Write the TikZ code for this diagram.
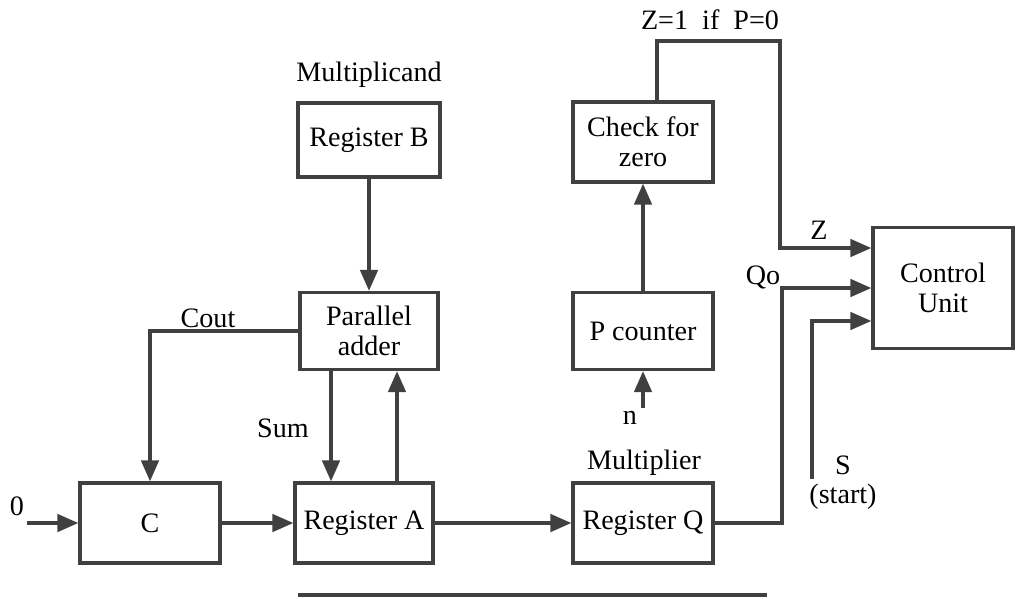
\documentclass[tikz,border=0pt]{standalone}
\usepackage{fontspec}
\setmainfont{Liberation Serif}
\usetikzlibrary{arrows.meta}

\begin{document}
\begin{tikzpicture}[x=0.02cm,y=-0.02cm,
        font=\fontsize{16}{17}\selectfont,
        unit/.style={draw=black!75,line width=1.9pt,inner sep=0pt,align=center,
                     minimum width=2.8cm,minimum height=1.6cm},
        arr/.style={draw=black!75,line width=1.9pt,-{Triangle[length=12pt,width=10pt]}},
        wire/.style={draw=black!75,line width=1.9pt}]
                \useasboundingbox (0,0) rectangle (1027,598);
                \node[unit] (C) at (150,523) {C};
                \node[unit,minimum width=2.76cm] (regA) at (364,523) {Register A};
                \node[unit] (regQ) at (643,523) {Register Q};
                \node[unit,minimum width=2.76cm,minimum height=1.54cm] (adder) at (369,331) {Parallel\\adder};
                \node[unit,minimum width=2.84cm,minimum height=1.48cm] (regB) at (369,140) {Register B};
                \node[unit] (check) at (643,142) {Check for\\zero};
                \node[unit,minimum height=1.54cm] (pcount) at (643,331) {P counter};
                \node[unit,minimum height=2.42cm] (cu) at (943,288) {Control\\Unit};
                \coordinate (zero) at (27,523);
                \coordinate (nin) at (643,408);
                \coordinate (zturn) at (780,41);
                \coordinate (qturn) at (782,288);
                \coordinate (sin) at (812,479);
                \node (lzero) at (17,506) {0};
                \node (lcout) at (208,318) {Cout};
                \node (lsum) at (283,428) {Sum};
                \node (lmcand) at (369,75) {Multiplicand};
                \node (lmplier) at (644,463) {Multiplier};
                \node (ln) at (630,418) {n};
                \node (lzp) at (710,20) {Z=1 \ if \ P=0};
                \node (lz) at (819,230) {Z};
                \node (lqo) at (763,277) {Qo};
                \node (ls) at (843,465) {S};
                \node (lstart) at (843,497) {(start)};
                \draw[arr] (zero) -- (C);
                \draw[arr] (C) -- (regA);
                \draw[arr] (regA) -- (regQ);
                \draw[arr] (regB) -- (adder);
                \draw[arr] (adder.west) -| (C.north);
                \draw[arr] ([xshift=-0.76cm]adder.south) -- ([xshift=-0.76cm]adder.south |- regA.north);
                \draw[arr] ([xshift=0.66cm]regA.north) -- ([xshift=0.66cm]regA.north |- adder.south);
                \draw[arr] (pcount) -- (check);
                \draw[arr] (nin) -- (pcount);
                \draw[arr] ([xshift=0.28cm]check.north) |- (zturn) |- ([yshift=0.8cm]cu.west);
                \draw[arr] (regQ.east) -| (qturn) -- (cu.west);
                \draw[arr] (sin) |- ([yshift=-0.66cm]cu.west);
                \draw[wire] (298,595) -- (767,595);
            \end{tikzpicture}
\end{document}
